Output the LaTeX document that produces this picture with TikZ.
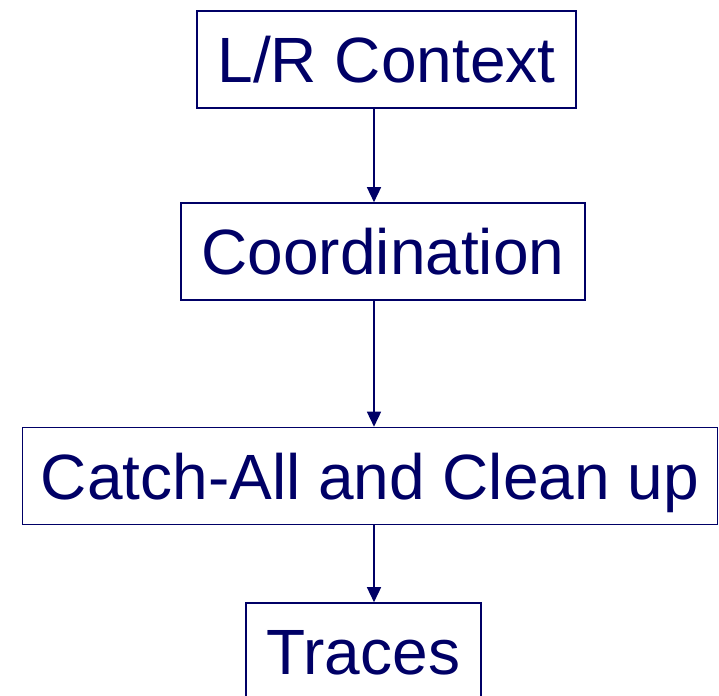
\documentclass[tikz,border=0pt]{standalone}
\usepackage{fontspec}
\setmainfont{Liberation Sans}
\usetikzlibrary{arrows.meta}

\definecolor{navy}{HTML}{000066}

\begin{document}
\begin{tikzpicture}[x=1pt, y=-1pt,
    stage/.style={draw=navy, line width=1.6pt, text=navy, font=\fontsize{64}{70}\selectfont,
      minimum height=97pt, inner sep=0pt, text height=46pt, text depth=0pt},
    flow/.style={-{Triangle[length=15pt,width=14pt]}, draw=navy, fill=navy, line width=1.5pt}]
  \useasboundingbox (0,0) rectangle (719,695);
  % Stages, top to bottom
  \node[stage, minimum width=379pt] (lr) at (386.5,59.5) {L/R Context};
  \node[stage, minimum width=404pt] (coord) at (383,251.5) {Coordination};
  \node[stage, minimum width=695pt] (catch) at (370,476) {Catch-All and Clean up};
  \node[stage, minimum width=235pt] (traces) at (363.5,651.5) {Traces};
  % Arrows share one vertical line
  \coordinate (spine) at (374,0);
  \draw[flow] (lr.south -| spine) -- (coord.north -| spine);
  \draw[flow] (coord.south -| spine) -- (catch.north -| spine);
  \draw[flow] (catch.south -| spine) -- (traces.north -| spine);
\end{tikzpicture}
\end{document}
